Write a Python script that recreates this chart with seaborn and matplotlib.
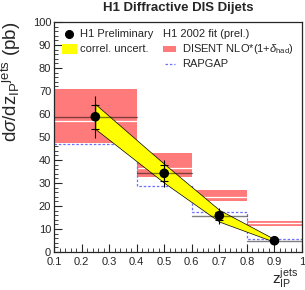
import numpy as np
import pandas as pd
import matplotlib
matplotlib.use("Agg")
import matplotlib.pyplot as plt
from matplotlib.patches import Rectangle
from matplotlib.ticker import MultipleLocator
import seaborn as sns

# ----------------------------------------------------------
# data
# ----------------------------------------------------------
bin_edges = [0.1, 0.4, 0.6, 0.8, 1.0]
zpom = [0.25, 0.5, 0.7, 0.9]
h1_xsec = [58.8, 34.2, 15.8, 4.9]
h1_stat = [5.2, 3.5, 1.8, 0.6]
h1_total = [9.2, 5.9, 3.5, 1.0]
band_hi = [64.3, 38.3, 18.3, 5.6]
band_lo = [53.5, 30.1, 13.2, 4.4]
disent_lo = [47.3, 32.7, 22.2, 11.3]
disent_hi = [70.7, 43.2, 27.0, 13.3]
disent_mid = [56.8, 36.5, 24.0, 12.5]
rapgap = [46.8, 28.8, 17.2, 5.6]

# ----------------------------------------------------------
# style
# ----------------------------------------------------------
sns.set_style("ticks")
plt.rcParams['font.family'] = ['Liberation Sans', 'DejaVu Sans']
plt.rcParams['mathtext.fontset'] = 'custom'
plt.rcParams['mathtext.rm'] = 'Liberation Sans'
plt.rcParams['mathtext.it'] = 'Liberation Sans:italic'

red = '#ff7b7b'
yellow = '#ffff00'
blue = '#6f6fff'

fig = plt.figure(figsize=(3.05, 2.90), dpi=100)
ax = fig.add_axes([54 / 305, 1 - 252 / 290, 248 / 305, 230 / 290])

# DISENT boxes
for i in range(len(zpom)):
    x0, x1 = bin_edges[i], bin_edges[i + 1]
    ax.fill_between([x0, x1], disent_lo[i], disent_hi[i], color=red, lw=0, zorder=1)
    ax.plot([x0, x1], [disent_mid[i]] * 2, color='white', lw=0.9, zorder=2)

# RAPGAP histogram
df_rap = pd.DataFrame({'z': bin_edges, 'xsec': rapgap + [rapgap[-1]]})
sns.lineplot(data=df_rap, x='z', y='xsec', drawstyle='steps-post', color=blue,
             ls=(0, (2, 1.5)), lw=0.9, ax=ax, zorder=3)

# correlated uncertainty band
ax.fill_between(zpom, band_lo, band_hi, color=yellow, ec='black', lw=0.5, zorder=4)

# horizontal bin widths
for i in range(len(zpom)):
    ax.plot([bin_edges[i], bin_edges[i + 1]], [h1_xsec[i]] * 2, color='black',
            alpha=0.5, lw=1.0, zorder=5)

# error bars: total line, stat ticks
ax.errorbar(zpom, h1_xsec, yerr=h1_total, fmt='none', ecolor='black', lw=0.8, zorder=6)
ax.errorbar(zpom, h1_xsec, yerr=h1_stat, fmt='none', ecolor='black', lw=0.8,
            capsize=3, capthick=0.8, zorder=6)
df_h1 = pd.DataFrame({'z': zpom, 'xsec': h1_xsec})
sns.scatterplot(data=df_h1, x='z', y='xsec', color='black', s=48, ec='none',
                ax=ax, zorder=7)

# ----------------------------------------------------------
# axes
# ----------------------------------------------------------
ax.set_xlim(0.1, 1.0)
ax.set_ylim(0, 100)
ax.xaxis.set_major_locator(MultipleLocator(0.1))
ax.xaxis.set_minor_locator(MultipleLocator(0.02))
ax.yaxis.set_major_locator(MultipleLocator(10))
ax.yaxis.set_minor_locator(MultipleLocator(2))
ax.set_xticks(np.arange(0.1, 1.01, 0.1))
ax.set_xticklabels(['0.1', '0.2', '0.3', '0.4', '0.5', '0.6', '0.7', '0.8', '0.9', '1'])
ax.tick_params(which='major', direction='in', length=6, width=0.8, labelsize=8, pad=2)
ax.tick_params(axis='x', which='major', pad=3.5)
ax.tick_params(which='minor', direction='in', length=3, width=0.6)
for sp in ax.spines.values():
    sp.set_linewidth(0.9)
    sp.set_visible(True)
    sp.set_zorder(10)

ax.set_xlabel(r'z$_{\rm IP}^{\rm jets}$', fontsize=11, loc='right', labelpad=0)
ax.xaxis.set_label_coords(0.982, -0.062)
ax.xaxis.label.set_va('top')
ax.set_ylabel(r'd$\sigma$/dz$_{\rm IP}$$^{\rm jets}$ (pb)', fontsize=13.5, loc='top')
ax.yaxis.set_label_coords(-0.123, 1.0)
fig.text(ax.get_position().x0 + ax.get_position().width / 2, 1 - 8 / 290,
         'H1 Diffractive DIS Dijets', ha='center', va='center',
         fontsize=9.5, fontweight='bold')

# ----------------------------------------------------------
# legend (drawn by hand, ROOT style)
# ----------------------------------------------------------
def ay(py):
    return (252 - py) / 230


def ax_(px):
    return (px - 54) / 248


tr = ax.transAxes
fs = 8
ax.plot([ax_(69)], [ay(34)], 'o', color='black', ms=5.5, transform=tr, clip_on=False)
ax.text(ax_(80), ay(34), 'H1 Preliminary', transform=tr, va='center', fontsize=fs)
ax.add_patch(Rectangle((ax_(62), ay(54)), ax_(77) - ax_(62), ay(44) - ay(54),
                       transform=tr, color=yellow, lw=0))
ax.text(ax_(80), ay(49), 'correl. uncert.', transform=tr, va='center', fontsize=fs)

ax.text(ax_(163), ay(34), 'H1 2002 fit (prel.)', transform=tr, va='center', fontsize=fs)
ax.add_patch(Rectangle((ax_(163), ay(52)), ax_(176) - ax_(163), ay(46) - ay(52),
                       transform=tr, color=red, lw=0))
ax.text(ax_(182), ay(49), r'DISENT NLO*(1+$\delta_{\rm had}$)', transform=tr,
        va='center', fontsize=fs)
ax.plot([ax_(165), ax_(175)], [ay(64)] * 2, color=blue, ls=(0, (2, 1.5)), lw=0.9,
        transform=tr)
ax.text(ax_(182), ay(64), 'RAPGAP', transform=tr, va='center', fontsize=fs)

fig.savefig('out.png', dpi=100)
